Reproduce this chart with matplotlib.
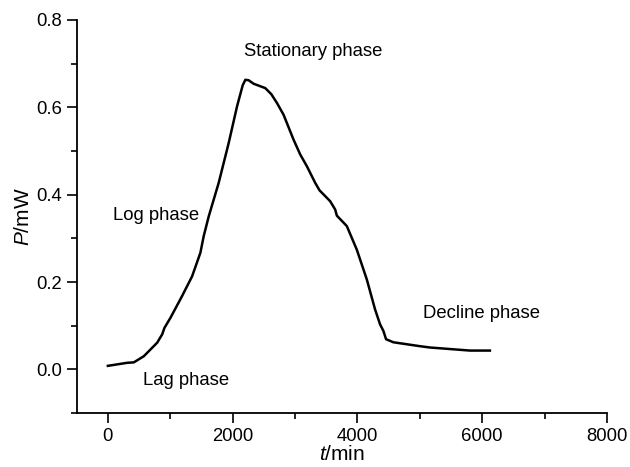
import matplotlib
matplotlib.use("Agg")
from matplotlib import pyplot as plt
from matplotlib.ticker import MultipleLocator

plt.rcParams['font.family'] = ['Liberation Sans', 'DejaVu Sans']
plt.rcParams['mathtext.fontset'] = 'custom'
plt.rcParams['mathtext.it'] = 'Liberation Sans:italic'
plt.rcParams['mathtext.rm'] = 'Liberation Sans'

# heat output curve (t in min, P in mW)
t_min = [0, 310, 416, 576, 790, 870, 907, 1003, 1190, 1350, 1483, 1536, 1616,
         1776, 1936, 2070, 2160, 2203, 2256, 2336, 2523, 2620, 2710, 2816,
         2976, 3083, 3190, 3323, 3392, 3563, 3643, 3670, 3830, 3990, 4150,
         4283, 4363, 4416, 4459, 4576, 5003, 5163, 5803, 6123]
p_mw = [0.008, 0.015, 0.016, 0.030, 0.061, 0.080, 0.095, 0.118, 0.168, 0.213,
        0.267, 0.305, 0.350, 0.427, 0.518, 0.602, 0.650, 0.663, 0.662, 0.654,
        0.644, 0.630, 0.610, 0.583, 0.526, 0.492, 0.465, 0.427, 0.410, 0.385,
        0.366, 0.352, 0.328, 0.274, 0.206, 0.137, 0.103, 0.088, 0.069, 0.062,
        0.053, 0.050, 0.043, 0.043]

phase_names = ["Lag phase", "Log phase", "Stationary phase", "Decline phase"]
phase_x = [1260, 765, 3291, 5995]
phase_y = [-0.025, 0.352, 0.727, 0.128]

fig = plt.figure(figsize=(6.3, 4.67), dpi=100)
ax = fig.add_axes([0.1217, 0.1156, 0.8418, 0.8416])

ax.plot(t_min, p_mw, color='black', linewidth=1.8, solid_joinstyle='round')

for name, x, y in zip(phase_names, phase_x, phase_y):
    ax.text(x, y, name, fontsize=13.3, ha='center', va='center')

ax.set_xlim(-500, 8000)
ax.set_ylim(-0.1, 0.8)
ax.xaxis.set_major_locator(MultipleLocator(2000))
ax.xaxis.set_minor_locator(MultipleLocator(1000))
ax.yaxis.set_major_locator(MultipleLocator(0.2))
ax.yaxis.set_minor_locator(MultipleLocator(0.1))
ax.yaxis.set_major_formatter(plt.FormatStrFormatter('%.1f'))

ax.spines['top'].set_visible(False)
ax.spines['right'].set_visible(False)
ax.spines['left'].set_linewidth(1.3)
ax.spines['bottom'].set_linewidth(1.3)
ax.tick_params(which='major', direction='out', length=7, width=1.2, labelsize=13.3)
ax.tick_params(which='minor', direction='out', length=4.5, width=1.2)

ax.set_xlabel(r'$\mathit{t}$/min', fontsize=15, labelpad=0)
ax.set_ylabel(r'$\mathit{P}$/mW', fontsize=15, labelpad=2)

fig.savefig("out.png", dpi=100)
